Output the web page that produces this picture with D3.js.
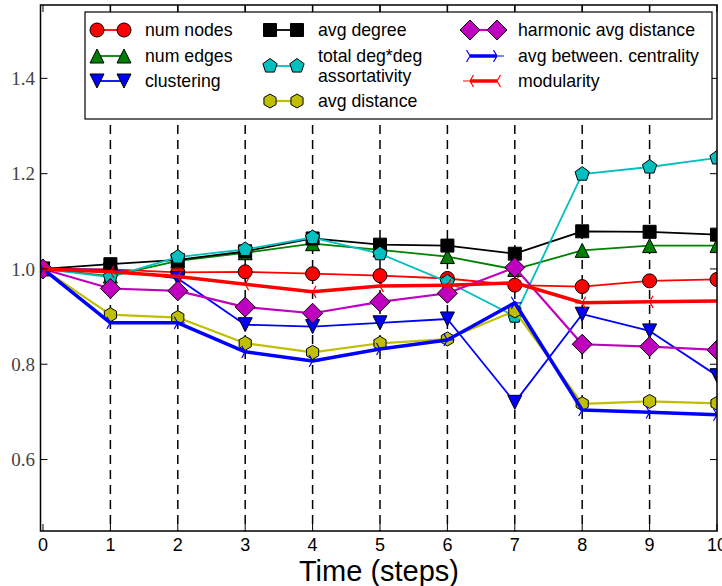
<!DOCTYPE html>
<html><head><meta charset="utf-8">
<script src="https://cdn.jsdelivr.net/npm/d3@7"></script>
<style>body{margin:0;background:#fff}</style>
</head><body><div id="chart"></div><script>
const width = 722, height = 586;

// data
const steps = [0, 1, 2, 3, 4, 5, 6, 7, 8, 9, 10];
const numNodes = [1.000, 0.999, 0.993, 0.994, 0.990, 0.986, 0.980, 0.966, 0.963, 0.975, 0.978];
const numEdges = [1.000, 0.985, 1.017, 1.034, 1.053, 1.040, 1.026, 0.999, 1.039, 1.049, 1.049];
const clustering = [1.000, 0.998, 0.980, 0.883, 0.879, 0.887, 0.895, 0.720, 0.905, 0.870, 0.776];
const avgDegree = [1.000, 1.010, 1.019, 1.037, 1.064, 1.051, 1.049, 1.032, 1.079, 1.078, 1.072];
const assortativity = [1.000, 0.983, 1.025, 1.041, 1.066, 1.032, 0.973, 0.901, 1.199, 1.214, 1.233];
const avgDistance = [1.000, 0.904, 0.898, 0.844, 0.825, 0.844, 0.853, 0.912, 0.717, 0.722, 0.718];
const harmonicDistance = [1.000, 0.959, 0.954, 0.920, 0.907, 0.931, 0.949, 1.003, 0.842, 0.837, 0.830];
const betweenness = [1.000, 0.887, 0.887, 0.826, 0.807, 0.832, 0.851, 0.929, 0.704, 0.699, 0.694];
const modularity = [1.000, 0.994, 0.984, 0.968, 0.952, 0.964, 0.966, 0.971, 0.929, 0.931, 0.933];
const yTicks = [0.6, 0.8, 1.0, 1.2, 1.4];

const series = [
  {name: ['num nodes'], values: numNodes, color: '#ff0000', marker: 'o', r: 7, lw: 1.8},
  {name: ['num edges'], values: numEdges, color: '#008000', marker: '^', r: 7, lw: 1.8},
  {name: ['clustering'], values: clustering, color: '#0000ff', marker: 'v', r: 7, lw: 1.8},
  {name: ['avg degree'], values: avgDegree, color: '#000000', marker: 's', r: 6.5, lw: 1.8},
  {name: ['total deg*deg', 'assortativity'], values: assortativity, color: '#00bfbf', marker: 'p', r: 7.5, lw: 1.8},
  {name: ['avg distance'], values: avgDistance, color: '#bfbf00', marker: 'h', r: 7, lw: 2.2},
  {name: ['harmonic avg distance'], values: harmonicDistance, color: '#bf00bf', marker: 'D', r: 10, lw: 2.2},
  {name: ['avg between. centrality'], values: betweenness, color: '#0000ff', marker: '4', r: 7, lw: 3.5},
  {name: ['modularity'], values: modularity, color: '#ff0000', marker: '3', r: 7, lw: 3.5}
];

const plot = {left: 40.5, right: 717, top: 5, bottom: 531};

const svg = d3.select('#chart').append('svg').attr('width', width).attr('height', height);

const x = d3.scaleLinear().domain([-0.037, 10]).range([plot.left, plot.right]);
const y = d3.scaleLinear().domain([0.45, 1.554]).range([plot.bottom, plot.top]);

function markerPath(m, r) {
  const poly = (n) => d3.range(n).map(k => {
    const a = -Math.PI / 2 + k * 2 * Math.PI / n;
    return [r * Math.cos(a), r * Math.sin(a)];
  });
  const s = 0.866 * r;
  switch (m) {
    case 'o': return d3.symbol(d3.symbolCircle, Math.PI * r * r)();
    case 's': return `M${-r},${-r}H${r}V${r}H${-r}Z`;
    case '^': return `M0,${-r}L${r},${r}L${-r},${r}Z`;
    case 'v': return `M0,${r}L${r},${-r}L${-r},${-r}Z`;
    case 'D': return `M0,${-r}L${r},0L0,${r}L${-r},0Z`;
    case 'p': return 'M' + poly(5).join('L') + 'Z';
    case 'h': return 'M' + poly(6).join('L') + 'Z';
    case '4': return `M0,0L${r},0M0,0L${-r / 2},${-s}M0,0L${-r / 2},${s}`;
    case '3': return `M0,0L${-r},0M0,0L${r / 2},${-s}M0,0L${r / 2},${s}`;
  }
}
const isLineMarker = m => m === '3' || m === '4';

svg.append('clipPath').attr('id', 'plotClip')
  .append('rect')
  .attr('x', plot.left).attr('y', plot.top)
  .attr('width', plot.right - plot.left).attr('height', plot.bottom - plot.top);

// dashed vertical guides
svg.append('g').selectAll('line')
  .data(steps.filter(d => d > 0 && d < 10))
  .enter().append('line')
  .attr('x1', d => x(d)).attr('x2', d => x(d))
  .attr('y1', plot.top).attr('y2', plot.bottom)
  .attr('stroke', '#000').attr('stroke-width', 1.5)
  .attr('stroke-dasharray', '9,6');

const dataG = svg.append('g').attr('clip-path', 'url(#plotClip)');
const line = d3.line().x((d, i) => x(steps[i])).y(d => y(d));

series.forEach(s => {
  const g = dataG.append('g');
  g.append('path')
    .datum(s.values)
    .attr('d', line)
    .attr('fill', 'none')
    .attr('stroke', s.color)
    .attr('stroke-width', s.lw)
    .attr('stroke-linejoin', 'round');
  g.selectAll('path.mk')
    .data(s.values)
    .enter().append('path')
    .attr('class', 'mk')
    .attr('transform', (d, i) => 'translate(' + x(steps[i]) + ',' + y(d) + ')')
    .attr('d', markerPath(s.marker, s.r))
    .attr('fill', isLineMarker(s.marker) ? 'none' : s.color)
    .attr('stroke', isLineMarker(s.marker) ? s.color : '#000')
    .attr('stroke-width', isLineMarker(s.marker) ? 1.2 : 1);
});

// frame
svg.append('rect')
  .attr('x', plot.left).attr('y', plot.top)
  .attr('width', plot.right - plot.left).attr('height', plot.bottom - plot.top)
  .attr('fill', 'none').attr('stroke', '#000').attr('stroke-width', 1.5);

// ticks inward on all sides
const tickG = svg.append('g').attr('stroke', '#000').attr('stroke-width', 1);
steps.forEach(d => {
  tickG.append('line').attr('x1', x(d)).attr('x2', x(d)).attr('y1', plot.bottom).attr('y2', plot.bottom - 7);
  tickG.append('line').attr('x1', x(d)).attr('x2', x(d)).attr('y1', plot.top).attr('y2', plot.top + 7);
});
yTicks.forEach(d => {
  tickG.append('line').attr('x1', plot.left).attr('x2', plot.left + 7).attr('y1', y(d)).attr('y2', y(d));
  tickG.append('line').attr('x1', plot.right).attr('x2', plot.right - 7).attr('y1', y(d)).attr('y2', y(d));
});

svg.append('g').selectAll('text')
  .data(steps)
  .enter().append('text')
  .attr('x', d => x(d)).attr('y', 551)
  .attr('text-anchor', 'middle')
  .style('font-family', '"Liberation Sans", Arial, sans-serif')
  .style('font-size', '18px')
  .text(d => d);

svg.append('g').selectAll('text')
  .data(yTicks)
  .enter().append('text')
  .attr('x', 35).attr('y', d => y(d))
  .attr('dy', '0.35em')
  .attr('text-anchor', 'end')
  .attr('fill', '#444')
  .style('font-family', '"Liberation Serif", "DejaVu Serif", serif')
  .style('font-size', '19px')
  .text(d => d.toFixed(1));

svg.append('text')
  .attr('x', 379).attr('y', 581)
  .attr('text-anchor', 'middle')
  .style('font-family', '"Liberation Sans", Arial, sans-serif')
  .style('font-size', '29px')
  .text('Time (steps)');

// legend
const legend = svg.append('g');
legend.append('rect')
  .attr('x', 85).attr('y', 12).attr('width', 627).attr('height', 107)
  .attr('fill', '#fff').attr('stroke', '#000').attr('stroke-width', 1.2);

const colX = [97, 270, 470];
const rowY = [[30, 56, 81], [30, 66, 101], [30, 56, 81]];
series.forEach((s, i) => {
  const c = Math.floor(i / 3), r = i % 3;
  const x0 = colX[c], x1 = x0 + 27, cy = rowY[c][r];
  const g = legend.append('g');
  g.append('line').attr('x1', x0).attr('x2', x1).attr('y1', cy).attr('y2', cy)
    .attr('stroke', s.color).attr('stroke-width', s.lw);
  [x0, x1].forEach(px => {
    g.append('path')
      .attr('transform', 'translate(' + px + ',' + cy + ')')
      .attr('d', markerPath(s.marker, s.r))
      .attr('fill', isLineMarker(s.marker) ? 'none' : s.color)
      .attr('stroke', isLineMarker(s.marker) ? s.color : '#000')
      .attr('stroke-width', isLineMarker(s.marker) ? 1.2 : 1);
  });
  const t = g.append('text')
    .attr('x', x1 + 21)
    .style('font-family', '"Liberation Sans", Arial, sans-serif')
    .style('font-size', '17.7px');
  s.name.forEach((ln, k) => {
    t.append('tspan').attr('x', x1 + 21)
      .attr('y', cy + (k - (s.name.length - 1) / 2) * 20)
      .attr('dy', '0.35em')
      .text(ln);
  });
});
</script></body></html>
